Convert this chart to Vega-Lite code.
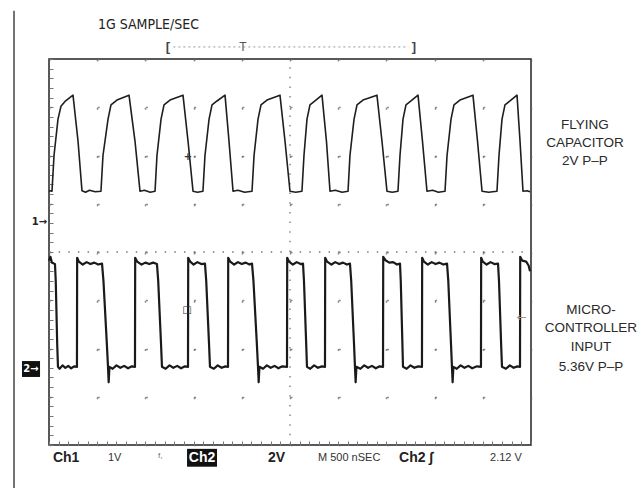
{
  "$schema": "https://vega.github.io/schema/vega-lite/v6.json",
  "width": 482,
  "height": 386,
  "autosize": {"type": "none"},
  "padding": {"left": 49, "top": 59, "right": 110, "bottom": 43},
  "background": "white",
  "config": {"view": {"stroke": "#222", "strokeWidth": 1.5}, "font": "Liberation Sans"},
  "datasets": {
    "ch1": [
      {"t":0,"v":5.26},{"t":21,"v":5.27},{"t":31,"v":5.26},{"t":52,"v":6.0},{"t":93,"v":6.75},{"t":124,"v":7.02},{"t":166,"v":7.12},{"t":249,"v":7.25},{"t":301,"v":6.3},{"t":342,"v":5.27},{"t":380,"v":5.24},{"t":420,"v":5.28},{"t":480,"v":5.25},{"t":539,"v":5.26},
      {"t":560,"v":6.0},{"t":612,"v":6.75},{"t":643,"v":7.05},{"t":705,"v":7.15},{"t":830,"v":7.25},{"t":892,"v":6.3},{"t":944,"v":5.26},{"t":990,"v":5.28},{"t":1050,"v":5.24},{"t":1100,"v":5.26},
      {"t":1120,"v":6.0},{"t":1162,"v":6.75},{"t":1193,"v":7.05},{"t":1255,"v":7.15},{"t":1390,"v":7.25},{"t":1442,"v":6.3},{"t":1494,"v":5.26},{"t":1540,"v":5.24},{"t":1597,"v":5.26},
      {"t":1618,"v":6.0},{"t":1660,"v":6.75},{"t":1691,"v":7.05},{"t":1743,"v":7.13},{"t":1826,"v":7.25},{"t":1867,"v":6.3},{"t":1909,"v":5.26},{"t":1960,"v":5.28},{"t":2030,"v":5.24},{"t":2106,"v":5.26},
      {"t":2127,"v":6.0},{"t":2168,"v":6.75},{"t":2199,"v":7.05},{"t":2261,"v":7.15},{"t":2396,"v":7.25},{"t":2448,"v":6.3},{"t":2500,"v":5.26},{"t":2560,"v":5.24},{"t":2624,"v":5.26},
      {"t":2645,"v":6.0},{"t":2676,"v":6.75},{"t":2707,"v":7.05},{"t":2759,"v":7.13},{"t":2832,"v":7.25},{"t":2878,"v":6.3},{"t":2915,"v":5.26},{"t":2970,"v":5.28},{"t":3040,"v":5.24},{"t":3102,"v":5.26},
      {"t":3122,"v":6.0},{"t":3164,"v":6.75},{"t":3195,"v":7.05},{"t":3257,"v":7.15},{"t":3402,"v":7.25},{"t":3454,"v":6.3},{"t":3506,"v":5.26},{"t":3560,"v":5.24},{"t":3620,"v":5.26},
      {"t":3641,"v":6.0},{"t":3672,"v":6.75},{"t":3703,"v":7.05},{"t":3755,"v":7.13},{"t":3828,"v":7.25},{"t":3874,"v":6.3},{"t":3921,"v":5.26},{"t":3980,"v":5.28},{"t":4040,"v":5.24},{"t":4108,"v":5.26},
      {"t":4129,"v":6.0},{"t":4170,"v":6.75},{"t":4201,"v":7.05},{"t":4263,"v":7.15},{"t":4398,"v":7.25},{"t":4445,"v":6.3},{"t":4492,"v":5.26},{"t":4560,"v":5.24},{"t":4647,"v":5.26},
      {"t":4668,"v":6.0},{"t":4699,"v":6.75},{"t":4730,"v":7.05},{"t":4782,"v":7.13},{"t":4855,"v":7.25},{"t":4886,"v":6.3},{"t":4917,"v":5.26},{"t":4960,"v":5.27},{"t":4990,"v":5.25}
    ],
    "ch2": [
      {"t":0,"v":3.82},{"t":15,"v":3.9},{"t":30,"v":3.78},{"t":50,"v":3.76},{"t":62,"v":3.75},{"t":70,"v":3.4},{"t":85,"v":2.1},{"t":93,"v":1.62},{"t":110,"v":1.58},{"t":140,"v":1.65},{"t":170,"v":1.6},{"t":200,"v":1.64},{"t":230,"v":1.59},{"t":260,"v":1.63},{"t":290,"v":1.62},
      {"t":292,"v":3.88},{"t":310,"v":3.8},{"t":350,"v":3.74},{"t":390,"v":3.79},{"t":430,"v":3.75},{"t":470,"v":3.78},{"t":510,"v":3.74},{"t":550,"v":3.76},
      {"t":565,"v":3.4},{"t":600,"v":2.1},{"t":612,"v":1.62},{"t":619,"v":1.3},{"t":627,"v":1.62},{"t":660,"v":1.58},{"t":700,"v":1.65},{"t":740,"v":1.6},{"t":780,"v":1.64},{"t":820,"v":1.59},{"t":860,"v":1.63},{"t":892,"v":1.62},
      {"t":894,"v":3.88},{"t":915,"v":3.8},{"t":960,"v":3.74},{"t":1000,"v":3.78},{"t":1040,"v":3.75},{"t":1080,"v":3.78},{"t":1120,"v":3.75},
      {"t":1133,"v":3.4},{"t":1162,"v":2.1},{"t":1172,"v":1.62},{"t":1210,"v":1.58},{"t":1250,"v":1.65},{"t":1290,"v":1.6},{"t":1330,"v":1.64},{"t":1370,"v":1.59},{"t":1410,"v":1.63},{"t":1442,"v":1.62},
      {"t":1444,"v":3.88},{"t":1465,"v":3.8},{"t":1500,"v":3.74},{"t":1540,"v":3.79},{"t":1580,"v":3.75},{"t":1618,"v":3.76},
      {"t":1631,"v":3.4},{"t":1660,"v":2.1},{"t":1670,"v":1.62},{"t":1710,"v":1.58},{"t":1750,"v":1.65},{"t":1790,"v":1.6},{"t":1830,"v":1.63},{"t":1857,"v":1.62},
      {"t":1859,"v":3.88},{"t":1880,"v":3.8},{"t":1920,"v":3.74},{"t":1960,"v":3.79},{"t":2000,"v":3.75},{"t":2040,"v":3.78},{"t":2080,"v":3.74},{"t":2106,"v":3.76},
      {"t":2121,"v":3.4},{"t":2156,"v":2.1},{"t":2168,"v":1.62},{"t":2175,"v":1.3},{"t":2183,"v":1.62},{"t":2220,"v":1.58},{"t":2260,"v":1.65},{"t":2300,"v":1.6},{"t":2340,"v":1.64},{"t":2380,"v":1.59},{"t":2420,"v":1.63},{"t":2469,"v":1.62},
      {"t":2471,"v":3.88},{"t":2490,"v":3.8},{"t":2530,"v":3.74},{"t":2570,"v":3.79},{"t":2610,"v":3.75},{"t":2635,"v":3.76},
      {"t":2645,"v":3.4},{"t":2668,"v":2.1},{"t":2676,"v":1.62},{"t":2710,"v":1.58},{"t":2750,"v":1.65},{"t":2790,"v":1.6},{"t":2830,"v":1.63},{"t":2863,"v":1.62},
      {"t":2865,"v":3.88},{"t":2885,"v":3.8},{"t":2930,"v":3.74},{"t":2970,"v":3.79},{"t":3010,"v":3.75},{"t":3050,"v":3.78},{"t":3090,"v":3.74},{"t":3122,"v":3.76},
      {"t":3135,"v":3.4},{"t":3164,"v":2.1},{"t":3174,"v":1.62},{"t":3181,"v":1.3},{"t":3189,"v":1.62},{"t":3230,"v":1.58},{"t":3270,"v":1.65},{"t":3310,"v":1.6},{"t":3350,"v":1.64},{"t":3390,"v":1.59},{"t":3430,"v":1.63},{"t":3465,"v":1.62},
      {"t":3467,"v":3.9},{"t":3490,"v":3.83},{"t":3530,"v":3.78},{"t":3570,"v":3.79},{"t":3610,"v":3.74},{"t":3641,"v":3.76},
      {"t":3649,"v":3.4},{"t":3666,"v":2.1},{"t":3672,"v":1.62},{"t":3710,"v":1.58},{"t":3750,"v":1.65},{"t":3790,"v":1.6},{"t":3830,"v":1.63},{"t":3869,"v":1.62},
      {"t":3871,"v":3.88},{"t":3890,"v":3.8},{"t":3930,"v":3.74},{"t":3970,"v":3.79},{"t":4010,"v":3.75},{"t":4050,"v":3.78},{"t":4090,"v":3.74},{"t":4129,"v":3.76},
      {"t":4142,"v":3.4},{"t":4170,"v":2.1},{"t":4180,"v":1.62},{"t":4187,"v":1.3},{"t":4195,"v":1.62},{"t":4230,"v":1.58},{"t":4270,"v":1.65},{"t":4310,"v":1.6},{"t":4350,"v":1.64},{"t":4390,"v":1.59},{"t":4440,"v":1.63},{"t":4481,"v":1.62},
      {"t":4483,"v":3.88},{"t":4500,"v":3.8},{"t":4540,"v":3.74},{"t":4580,"v":3.79},{"t":4620,"v":3.75},{"t":4658,"v":3.76},
      {"t":4668,"v":3.4},{"t":4690,"v":2.1},{"t":4699,"v":1.62},{"t":4740,"v":1.58},{"t":4780,"v":1.65},{"t":4820,"v":1.6},{"t":4860,"v":1.63},{"t":4886,"v":1.62},
      {"t":4888,"v":3.9},{"t":4910,"v":3.82},{"t":4950,"v":3.8},{"t":4975,"v":3.72},{"t":4990,"v":3.6}
    ]
  },
  "encoding": {
    "x": {"field": "t", "type": "quantitative", "scale": {"domain": [0, 5000], "nice": false, "zero": false},
      "axis": {"title": null, "labels": false, "domain": false, "orient": "bottom",
        "values": [0,100,200,300,400,500,600,700,800,900,1000,1100,1200,1300,1400,1500,1600,1700,1800,1900,2000,2100,2200,2300,2400,2500,2600,2700,2800,2900,3000,3100,3200,3300,3400,3500,3600,3700,3800,3900,4000,4100,4200,4300,4400,4500,4600,4700,4800,4900,5000],
        "tickSize": -4, "tickColor": "#777", "tickWidth": 1,
        "grid": true, "gridColor": "#666", "gridWidth": 1.5, "gridDash": [2, 46.25],
        "gridOpacity": {"condition": {"test": "datum.value % 500 === 0", "value": 0.75}, "value": 0}}},
    "y": {"field": "v", "type": "quantitative", "scale": {"domain": [0, 8], "nice": false, "zero": false},
      "axis": {"title": null, "labels": false, "domain": false, "orient": "left",
        "values": [0,0.2,0.4,0.6,0.8,1,1.2,1.4,1.6,1.8,2,2.2,2.4,2.6,2.8,3,3.2,3.4,3.6,3.8,4,4.2,4.4,4.6,4.8,5,5.2,5.4,5.6,5.8,6,6.2,6.4,6.6,6.8,7,7.2,7.4,7.6,7.8,8],
        "tickSize": -4, "tickColor": "#777", "tickWidth": 1,
        "grid": true, "gridColor": "#666", "gridWidth": 1.5, "gridDash": [2, 46.2],
        "gridOpacity": {"condition": {"test": "datum.value % 1 === 0", "value": 0.75}, "value": 0}}}
  },
  "layer": [
    {"data": {"values": [{"t": 2500, "v": 0, "v2": 8}]},
     "mark": {"type": "rule", "color": "#777", "strokeWidth": 1.3, "strokeDash": [1.5, 8.15]},
     "encoding": {"y2": {"field": "v2"}}},
    {"data": {"values": [{"t": 0, "t2": 5000, "v": 4}]},
     "mark": {"type": "rule", "color": "#777", "strokeWidth": 1.3, "strokeDash": [1.5, 8.14]},
     "encoding": {"x2": {"field": "t2"}}},
    {"data": {"name": "ch1"}, "mark": {"type": "line", "color": "#1e1e1e", "strokeWidth": 1.6, "strokeJoin": "round"}},
    {"data": {"name": "ch2"}, "mark": {"type": "line", "color": "#1a1a1a", "strokeWidth": 2.2, "strokeJoin": "round"}},
    {"data": {"values": [{"t": -363, "v": 9.0, "v2": -0.9}]},
     "mark": {"type": "rule", "color": "#444", "strokeWidth": 1.5},
     "encoding": {"y2": {"field": "v2"}}},
    {"data": {"values": [{"t": 1290, "t2": 3730, "v": 8.25}]},
     "mark": {"type": "rule", "color": "#999", "strokeWidth": 1, "strokeDash": [2, 3]},
     "encoding": {"x2": {"field": "t2"}}},
    {"data": {"values": [{"t": 1234, "v": 8.25, "label": "["}, {"t": 3786, "v": 8.25, "label": "]"}]},
     "mark": {"type": "text", "fontSize": 13, "fontWeight": "bold", "color": "#444", "align": "center", "baseline": "middle"},
     "encoding": {"text": {"field": "label"}}},
    {"data": {"values": [{"t": 2012, "v": 8.25, "label": "T"}]},
     "mark": {"type": "text", "fontSize": 12, "color": "#555", "align": "center", "baseline": "middle"},
     "encoding": {"text": {"field": "label"}}},
    {"data": {"values": [{"t": 508, "v": 8.7, "label": "1G SAMPLE/SEC"}]},
     "mark": {"type": "text", "fontSize": 14, "font": "Liberation Sans Narrow, DejaVu Sans Condensed, Liberation Sans", "color": "#222", "align": "left", "baseline": "middle"},
     "encoding": {"text": {"field": "label"}}},
    {"data": {"values": [
       {"t": 5560, "v": 6.63, "label": "FLYING"},
       {"t": 5560, "v": 6.26, "label": "CAPACITOR"},
       {"t": 5560, "v": 5.89, "label": "2V P–P"},
       {"t": 5622, "v": 2.8, "label": "MICRO-"},
       {"t": 5622, "v": 2.42, "label": "CONTROLLER"},
       {"t": 5622, "v": 2.03, "label": "INPUT"},
       {"t": 5622, "v": 1.62, "label": "5.36V P–P"}]},
     "mark": {"type": "text", "fontSize": 13.5, "color": "#2a2a2a", "align": "center", "baseline": "middle"},
     "encoding": {"text": {"field": "label"}}},
    {"data": {"values": [{"t": 41, "v": -0.26, "label": "Ch1"}, {"t": 2272, "v": -0.26, "label": "2V"}, {"t": 3631, "v": -0.26, "label": "Ch2 ∫"}]},
     "mark": {"type": "text", "fontSize": 14, "fontWeight": "bold", "color": "#222", "align": "left", "baseline": "middle"},
     "encoding": {"text": {"field": "label"}}},
    {"data": {"values": [{"t": 612, "v": -0.26, "label": "1V"}, {"t": 2790, "v": -0.26, "label": "M 500 nSEC"}, {"t": 4575, "v": -0.26, "label": "2.12 V"}]},
     "mark": {"type": "text", "fontSize": 11, "color": "#333", "align": "left", "baseline": "middle"},
     "encoding": {"text": {"field": "label"}}},
    {"data": {"values": [{"t": 1131, "v": -0.22, "label": "f,"}]},
     "mark": {"type": "text", "fontSize": 8, "color": "#666", "align": "left", "baseline": "middle"},
     "encoding": {"text": {"field": "label"}}},
    {"data": {"values": [{"t": 1432, "t2": 1743, "v": -0.08, "v2": -0.45}, {"t": -280, "t2": -93, "v": 1.74, "v2": 1.41}]},
     "mark": {"type": "rect", "color": "#111"},
     "encoding": {"x2": {"field": "t2"}, "y2": {"field": "v2"}}},
    {"data": {"values": [{"t": 1588, "v": -0.26, "label": "Ch2"}]},
     "mark": {"type": "text", "fontSize": 14, "fontWeight": "bold", "color": "white", "align": "center", "baseline": "middle"},
     "encoding": {"text": {"field": "label"}}},
    {"data": {"values": [{"t": -187, "v": 1.58, "label": "2→"}]},
     "mark": {"type": "text", "fontSize": 10, "font": "DejaVu Sans", "fontWeight": "bold", "color": "white", "align": "center", "baseline": "middle"},
     "encoding": {"text": {"field": "label"}}},
    {"data": {"values": [{"t": -20, "v": 4.62, "label": "1→"}]},
     "mark": {"type": "text", "fontSize": 10, "font": "DejaVu Sans", "fontWeight": "bold", "color": "#222", "align": "right", "baseline": "middle"},
     "encoding": {"text": {"field": "label"}}},
    {"data": {"values": [{"t": 4905, "v": 2.65, "label": "←"}]},
     "mark": {"type": "text", "fontSize": 12, "font": "DejaVu Sans", "color": "#999", "align": "center", "baseline": "middle"},
     "encoding": {"text": {"field": "label"}}},
    {"data": {"values": [{"t": 1442, "v": 5.97, "label": "+"}, {"t": 1431, "v": 2.8, "label": "□"}]},
     "mark": {"type": "text", "fontSize": 10, "font": "DejaVu Sans", "fontWeight": "bold", "color": "#333", "align": "center", "baseline": "middle"},
     "encoding": {"text": {"field": "label"}}}
  ]
}
